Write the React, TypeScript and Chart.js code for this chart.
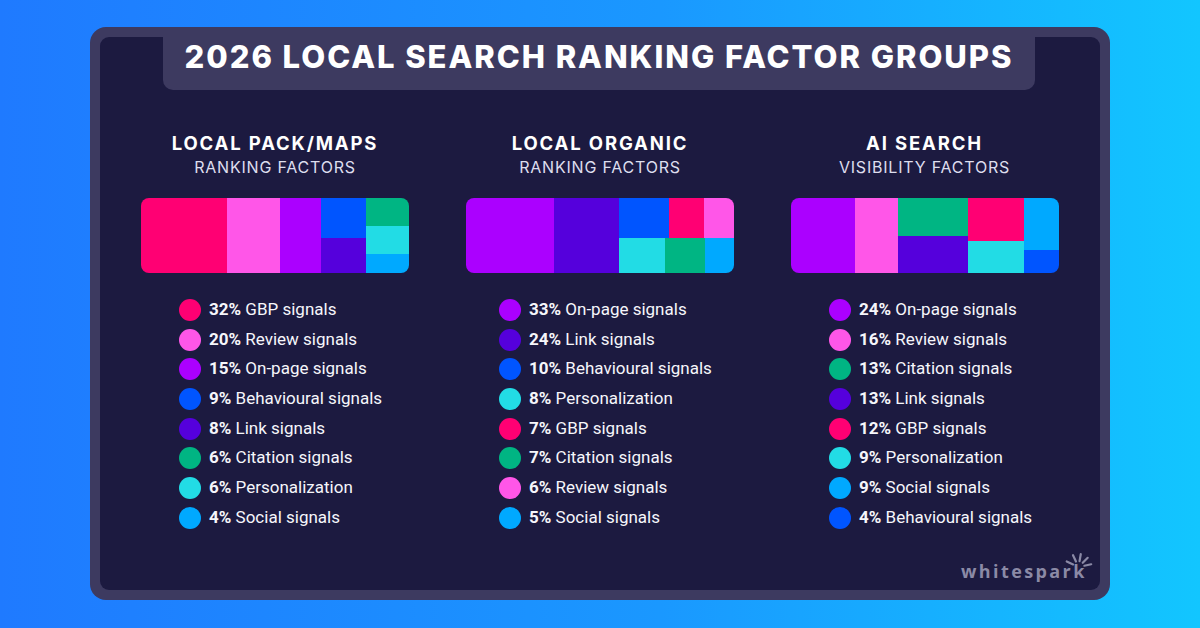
import React, { useEffect, useRef } from 'react';
import { Chart, registerables } from 'chart.js';

Chart.register(...registerables);

// ---------- data ----------
const titleText = '2026 LOCAL SEARCH RANKING FACTOR GROUPS';

const packTitle = 'LOCAL PACK/MAPS';
const packSubtitle = 'RANKING FACTORS';
const packLabels = ['GBP signals', 'Review signals', 'On-page signals', 'Behavioural signals', 'Link signals', 'Citation signals', 'Personalization', 'Social signals'];
const packValues = [32, 20, 15, 9, 8, 6, 6, 4];

const organicTitle = 'LOCAL ORGANIC';
const organicSubtitle = 'RANKING FACTORS';
const organicLabels = ['On-page signals', 'Link signals', 'Behavioural signals', 'Personalization', 'GBP signals', 'Citation signals', 'Review signals', 'Social signals'];
const organicValues = [33, 24, 10, 8, 7, 7, 6, 5];

const aiTitle = 'AI SEARCH';
const aiSubtitle = 'VISIBILITY FACTORS';
const aiLabels = ['On-page signals', 'Review signals', 'Citation signals', 'Link signals', 'GBP signals', 'Personalization', 'Social signals', 'Behavioural signals'];
const aiValues = [24, 16, 13, 13, 12, 9, 9, 4];

const factorColors: Record<string, string> = {
  'GBP signals': '#ff0073',
  'Review signals': '#ff56e8',
  'On-page signals': '#ab00ff',
  'Behavioural signals': '#0055ff',
  'Link signals': '#5500dc',
  'Citation signals': '#00b583',
  'Personalization': '#22dce5',
  'Social signals': '#00a9ff',
};

// ---------- treemap grouping (slice-and-dice structure) ----------
type Node = number | { dir: 'row' | 'col'; kids: Node[] };
const packLayout: Node = { dir: 'row', kids: [0, 1, 2, { dir: 'col', kids: [3, 4] }, { dir: 'col', kids: [5, 6, 7] }] };
const organicLayout: Node = { dir: 'row', kids: [0, 1, { dir: 'col', kids: [{ dir: 'row', kids: [2, 4, 6] }, { dir: 'row', kids: [3, 5, 7] }] }] };
const aiLayout: Node = { dir: 'row', kids: [0, 1, { dir: 'col', kids: [2, 3] }, { dir: 'col', kids: [4, 5] }, { dir: 'col', kids: [6, 7] }] };

type Rect = { x0: number; y0: number; x1: number; y1: number };

function nodeSum(n: Node, values: number[]): number {
  if (typeof n === 'number') return values[n];
  return n.kids.reduce((s, k) => s + nodeSum(k, values), 0);
}

function layoutNode(n: Node, values: number[], r: Rect, out: Rect[]) {
  if (typeof n === 'number') {
    out[n] = r;
    return;
  }
  const total = nodeSum(n, values);
  let acc = 0;
  n.kids.forEach((k) => {
    const v = nodeSum(k, values);
    const a = acc / total;
    const b = (acc + v) / total;
    acc += v;
    if (n.dir === 'row') {
      layoutNode(k, values, { x0: r.x0 + (r.x1 - r.x0) * a, x1: r.x0 + (r.x1 - r.x0) * b, y0: r.y0, y1: r.y1 }, out);
    } else {
      layoutNode(k, values, { x0: r.x0, x1: r.x1, y0: r.y0 + (r.y1 - r.y0) * a, y1: r.y0 + (r.y1 - r.y0) * b }, out);
    }
  });
}

const rectPlugin = {
  id: 'treemapRects',
  afterDatasetsDraw(chart: any) {
    const { ctx } = chart;
    const xs = chart.scales.x;
    const ys = chart.scales.y;
    ctx.save();
    chart.data.datasets.forEach((ds: any) => {
      const [a, b] = ds.data;
      const px0 = Math.round(xs.getPixelForValue(a.x));
      const px1 = Math.round(xs.getPixelForValue(b.x));
      const py0 = Math.round(ys.getPixelForValue(a.y));
      const py1 = Math.round(ys.getPixelForValue(b.y));
      ctx.fillStyle = ds.backgroundColor;
      ctx.fillRect(Math.min(px0, px1), Math.min(py0, py1), Math.abs(px1 - px0), Math.abs(py1 - py0));
    });
    ctx.restore();
  },
};

function Treemap(props: { labels: string[]; values: number[]; layout: Node; left: number; top: number }) {
  const ref = useRef<HTMLCanvasElement>(null);
  useEffect(() => {
    const rects: Rect[] = [];
    layoutNode(props.layout, props.values, { x0: 0, y0: 0, x1: 100, y1: 100 }, rects);
    const datasets = props.labels.map((l, i) => ({
      label: l,
      data: [
        { x: rects[i].x0, y: rects[i].y0 },
        { x: rects[i].x1, y: rects[i].y1 },
      ],
      backgroundColor: factorColors[l],
      pointRadius: 0,
      showLine: false,
    }));
    const chart = new Chart(ref.current as HTMLCanvasElement, {
      type: 'scatter',
      data: { datasets },
      options: {
        animation: false,
        responsive: false,
        maintainAspectRatio: false,
        events: [],
        layout: { padding: 0 },
        plugins: { legend: { display: false }, tooltip: { enabled: false } },
        scales: {
          x: { type: 'linear', min: 0, max: 100, display: false },
          y: { type: 'linear', min: 0, max: 100, display: false, reverse: true },
        },
      } as any,
      plugins: [rectPlugin],
    });
    return () => chart.destroy();
  }, []);
  return (
    <canvas
      ref={ref}
      width={268}
      height={75}
      style={{ position: 'absolute', left: props.left, top: props.top, width: 268, height: 75, borderRadius: 8 }}
    />
  );
}

function Legend(props: { labels: string[]; values: number[]; left: number; top: number }) {
  return (
    <div style={{ position: 'absolute', left: props.left, top: props.top }}>
      {props.labels.map((l, i) => (
        <div key={l} style={{ display: 'flex', alignItems: 'center', height: 29.7 }}>
          <div style={{ width: 22, height: 22, borderRadius: 11, background: factorColors[l], marginRight: 8, flex: '0 0 auto' }} />
          <div style={{ fontFamily: 'Roboto, sans-serif', fontSize: 17, lineHeight: '29.7px', color: '#f6f6fb', whiteSpace: 'nowrap' }}>
            <span style={{ fontWeight: 700 }}>{props.values[i]}%</span> {l}
          </div>
        </div>
      ))}
    </div>
  );
}

function Heading(props: { title: string; subtitle: string; center: number }) {
  return (
    <>
      <div
        style={{
          position: 'absolute', left: props.center - 200, width: 400, top: 143.4 - 12, height: 24, lineHeight: '24px',
          textAlign: 'center', fontFamily: 'Inter, sans-serif', fontWeight: 700, fontSize: 18.5, letterSpacing: 1.85, color: '#ffffff',
        }}
      >
        {props.title}
      </div>
      <div
        style={{
          position: 'absolute', left: props.center - 200, width: 400, top: 166.5 - 11, height: 22, lineHeight: '22px',
          textAlign: 'center', fontFamily: 'Inter, sans-serif', fontWeight: 400, fontSize: 16, letterSpacing: 0.8, color: '#dedeee',
        }}
      >
        {props.subtitle}
      </div>
    </>
  );
}

export default function App() {
  return (
    <div
      style={{
        position: 'absolute', left: 0, top: 0, width: 1200, height: 628, overflow: 'hidden',
        background: 'linear-gradient(90deg, #1f7aff 0%, #1a98ff 55%, #12c6ff 100%)',
      }}
    >
      <div style={{ position: 'absolute', left: 90, top: 27, width: 1020, height: 573, borderRadius: 16, background: '#3d3a60' }} />
      <div style={{ position: 'absolute', left: 100, top: 37, width: 1000, height: 553, borderRadius: 9, background: '#1c1a40' }} />
      <div style={{ position: 'absolute', left: 163, top: 37, width: 872, height: 53, background: '#3d3a60', borderRadius: '0 0 10px 10px' }} />
      <div
        style={{
          position: 'absolute', left: 163, width: 872, top: 57 - 20, height: 40, lineHeight: '40px', textAlign: 'center',
          fontFamily: 'Inter, sans-serif', fontWeight: 800, fontSize: 31, letterSpacing: 1.95, color: '#ffffff', whiteSpace: 'nowrap',
        }}
      >
        {titleText}
      </div>

      <Heading title={packTitle} subtitle={packSubtitle} center={275} />
      <Heading title={organicTitle} subtitle={organicSubtitle} center={600} />
      <Heading title={aiTitle} subtitle={aiSubtitle} center={924.5} />

      <Treemap labels={packLabels} values={packValues} layout={packLayout} left={141} top={198} />
      <Treemap labels={organicLabels} values={organicValues} layout={organicLayout} left={466} top={198} />
      <Treemap labels={aiLabels} values={aiValues} layout={aiLayout} left={791} top={198} />

      <Legend labels={packLabels} values={packValues} left={179} top={295} />
      <Legend labels={organicLabels} values={organicValues} left={499} top={295} />
      <Legend labels={aiLabels} values={aiValues} left={829} top={295} />

      <div
        style={{
          position: 'absolute', left: 961, top: 562, height: 18, lineHeight: '18px', fontFamily: '"Open Sans", sans-serif',
          fontWeight: 700, fontSize: 18, letterSpacing: 2.4, color: '#8b8aa6', whiteSpace: 'nowrap',
        }}
      >
        whitespark
      </div>
      <svg style={{ position: 'absolute', left: 1062, top: 546, width: 36, height: 26 }} width={36} height={26}>
        {[-155, -115, -80, -45, -12].map((ang, i) => {
          const cx = 16.5, cy = 21;
          const r0 = 6, r1 = 13;
          const a = (ang * Math.PI) / 180;
          return (
            <line
              key={i}
              x1={cx + r0 * Math.cos(a)} y1={cy + r0 * Math.sin(a)}
              x2={cx + r1 * Math.cos(a)} y2={cy + r1 * Math.sin(a)}
              stroke="#8b8aa6" strokeWidth={2.2} strokeLinecap="round"
            />
          );
        })}
      </svg>
    </div>
  );
}
